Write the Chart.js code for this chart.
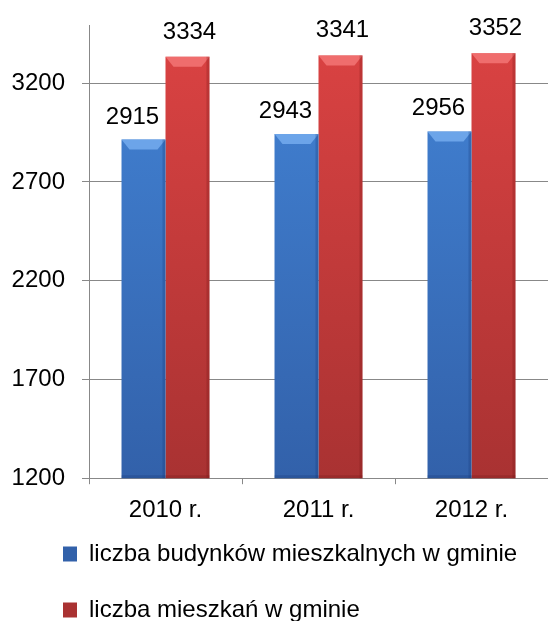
<!DOCTYPE html>
<html lang="pl">
<head>
    <meta charset="UTF-8">
    <title>Budynki i mieszkania w gminie</title>
    <style>
        html, body { margin: 0; padding: 0; background: #fff; }
        #wrap { width: 548px; height: 621px; }
    </style>
    <script src="https://cdn.jsdelivr.net/npm/chart.js"></script>
</head>
<body>
    <div id="wrap"><canvas id="chart" width="548" height="621"></canvas></div>
    <script>
        // Dane wykresu
        const years = ['2010 r.', '2011 r.', '2012 r.'];
        const budynki = [2915, 2943, 2956];
        const mieszkania = [3334, 3341, 3352];
        const yTicks = [1200, 1700, 2200, 2700, 3200];
        const seriesNames = ['liczba budynków mieszkalnych w gminie', 'liczba mieszkań w gminie'];

        const FONT = '"Liberation Sans", Arial, sans-serif';

        // gradient pionowy dla słupków
        function barFill(top, bottom, flat) {
            return function (context) {
                const area = context.chart.chartArea;
                if (!area) return flat;
                const g = context.chart.ctx.createLinearGradient(0, area.top, 0, area.bottom);
                g.addColorStop(0, top);
                g.addColorStop(1, bottom);
                return g;
            };
        }

        // skos na górze słupków (efekt 3D jak w Excelu)
        const bevelPlugin = {
            id: 'bevel',
            afterDatasetsDraw(chart) {
                const ctx = chart.ctx;
                const light = ['rgba(120,175,240,0.8)', 'rgba(245,120,120,0.8)'];
                const dark = ['rgba(20,50,110,0.25)', 'rgba(110,20,20,0.25)'];
                const bottom = chart.chartArea.bottom;
                chart.data.datasets.forEach((ds, di) => {
                    chart.getDatasetMeta(di).data.forEach(bar => {
                        const l = bar.x - bar.width / 2, r = bar.x + bar.width / 2;
                        const t = bar.y, b = Math.min(bar.base, bottom), k = 8;
                        ctx.save();
                        ctx.fillStyle = light[di];
                        ctx.beginPath();
                        ctx.moveTo(l, t); ctx.lineTo(r, t);
                        ctx.lineTo(r - k, t + 10); ctx.lineTo(l + k, t + 10);
                        ctx.closePath(); ctx.fill();
                        ctx.fillStyle = dark[di];
                        ctx.fillRect(r - 3, t, 3, b - t);
                        ctx.fillRect(l, b - 3, r - l, 3);
                        ctx.restore();
                    });
                });
            }
        };

        // etykiety wartości nad słupkami
        const labelPlugin = {
            id: 'valueLabels',
            afterDatasetsDraw(chart) {
                const ctx = chart.ctx;
                const dx = [-11, 2];
                const gap = [16, 18];
                ctx.save();
                ctx.font = '24px ' + FONT;
                ctx.fillStyle = '#000';
                ctx.textAlign = 'center';
                ctx.textBaseline = 'alphabetic';
                chart.data.datasets.forEach((ds, di) => {
                    chart.getDatasetMeta(di).data.forEach((bar, i) => {
                        ctx.fillText(String(ds.data[i]), bar.x + dx[di], bar.y - gap[di]);
                    });
                });
                ctx.restore();
            }
        };

        // przesunięcie legendy (dwie linie wyrównane do lewej)
        const legendShift = {
            id: 'legendShift',
            afterLayout(chart) {
                const lg = chart.legend;
                lg.left += 31; lg.right += 31;
                lg.top = 510; lg.bottom = 640;
            }
        };

        new Chart(document.getElementById('chart'), {
            type: 'bar',
            data: {
                labels: years,
                datasets: [{
                    label: seriesNames[0],
                    data: budynki,
                    backgroundColor: barFill('#4384d6', '#3261aa', '#3b74c2'),
                    borderWidth: 0
                }, {
                    label: seriesNames[1],
                    data: mieszkania,
                    backgroundColor: barFill('#dc4343', '#a93232', '#c83c3c'),
                    borderWidth: 0
                }]
            },
            options: {
                responsive: false,
                animation: false,
                layout: { padding: { top: 25, left: 0, right: 0, bottom: 0 } },
                datasets: { bar: { categoryPercentage: 0.575, barPercentage: 1 } },
                plugins: {
                    tooltip: { enabled: false },
                    legend: {
                        position: 'bottom',
                        align: 'start',
                        maxHeight: 84,
                        labels: {
                            boxWidth: 14,
                            boxHeight: 15,
                            padding: 32,
                            color: '#000',
                            font: { family: FONT, size: 24 }
                        }
                    }
                },
                scales: {
                    x: {
                        grid: {
                            offset: true,
                            drawOnChartArea: false,
                            tickLength: 6,
                            color: '#888'
                        },
                        border: { color: '#888' },
                        ticks: {
                            padding: 12,
                            color: '#000',
                            font: { family: FONT, size: 24 }
                        }
                    },
                    y: {
                        min: 1200,
                        max: 3495,
                        afterBuildTicks(scale) {
                            scale.ticks = yTicks.map(v => ({ value: v }));
                        },
                        afterFit(scale) {
                            scale.width = 89;
                            scale.paddingTop = 0;
                            scale.paddingBottom = 0;
                        },
                        grid: { color: '#888', tickLength: 7 },
                        border: { color: '#888' },
                        ticks: {
                            padding: 17,
                            color: '#000',
                            font: { family: FONT, size: 24 },
                            callback: v => String(v)
                        }
                    }
                }
            },
            plugins: [bevelPlugin, labelPlugin, legendShift]
        });
    </script>
</body>
</html>
